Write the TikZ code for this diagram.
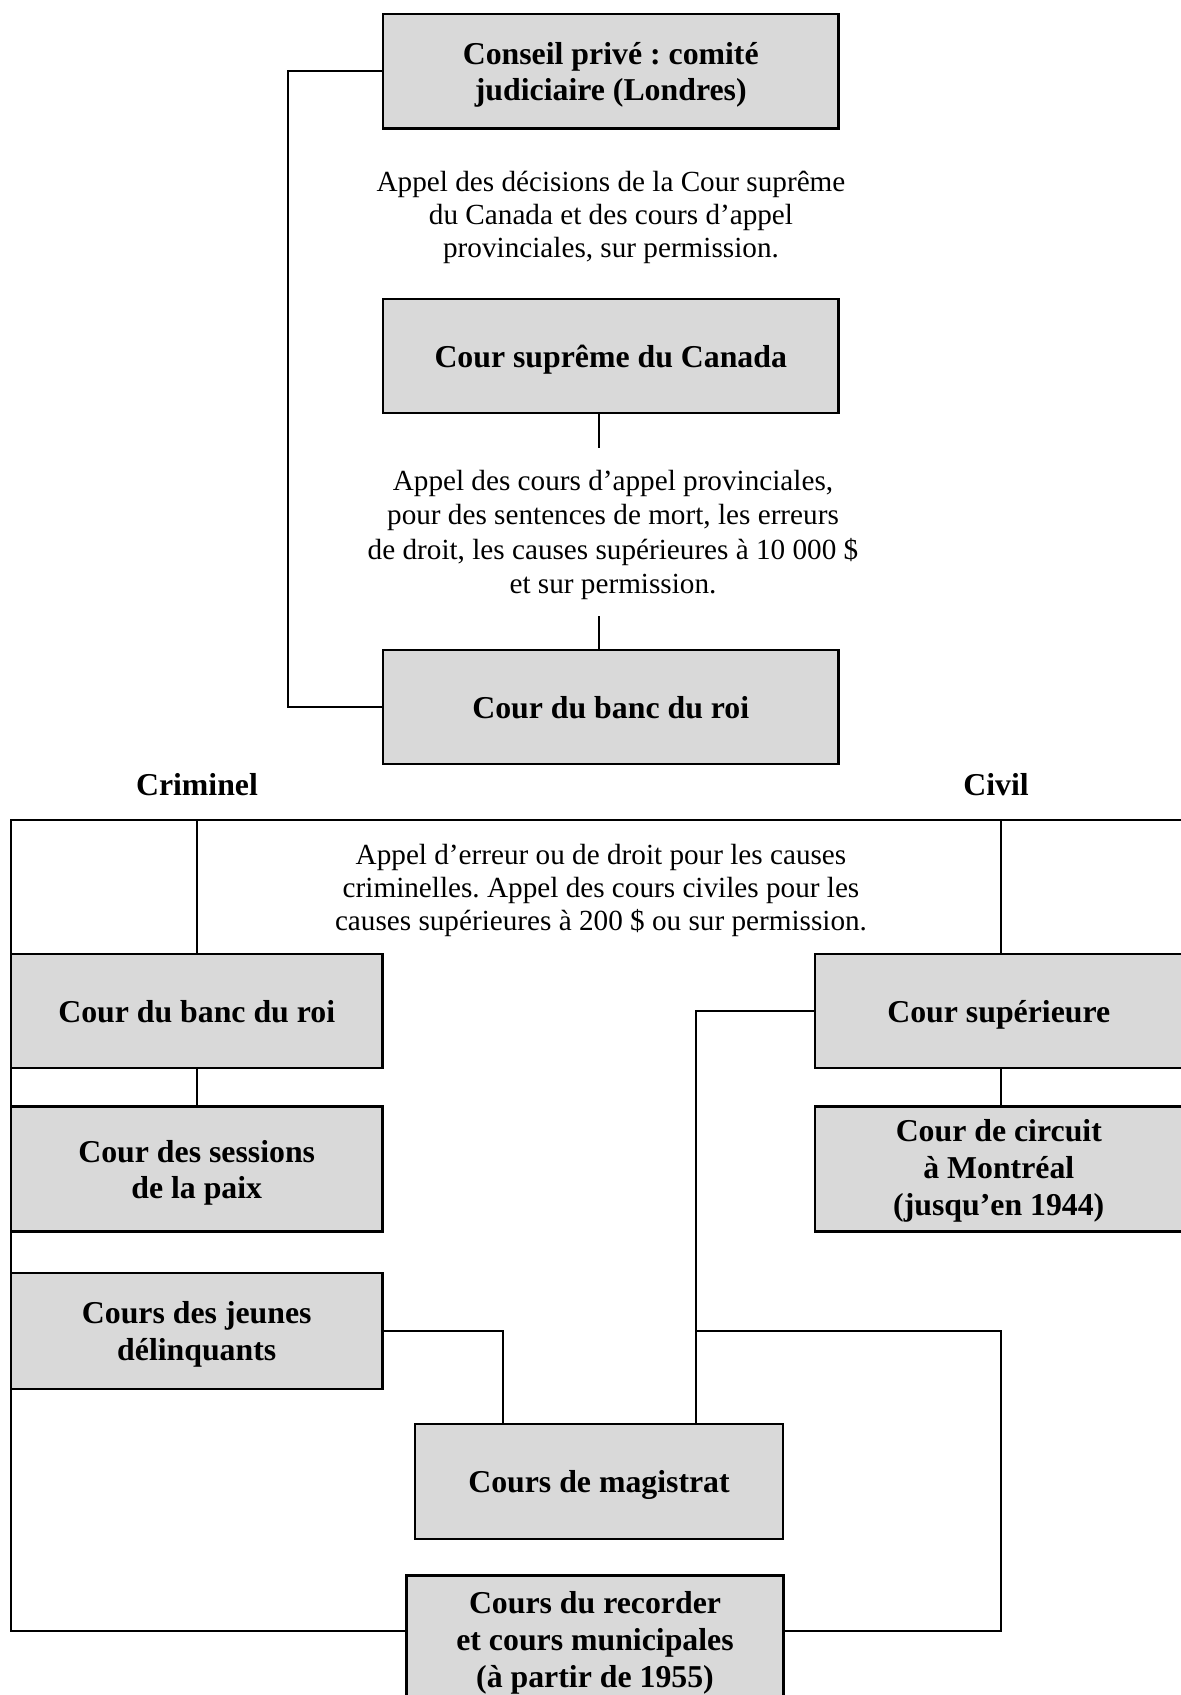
\documentclass[tikz,border=0pt]{standalone}
\usepackage{fontspec}
\setmainfont{Liberation Serif}
\frenchspacing
% struts that set the text a little low in the court boxes
\newcommand\ctop{\rule{0pt}{14.8pt}}
\newcommand\cbot{\rule[-3.6pt]{0pt}{3.6pt}}
\begin{document}
\begin{tikzpicture}[x=0.5pt,y=-0.5pt,
  court/.style={draw=black, line width=1.3pt, fill=courtgray, align=center,
    font=\fontsize{15.9}{18.4}\selectfont\bfseries, inner sep=0pt},
  note/.style={align=center, font=\fontsize{14.6}{16.6}\selectfont, inner sep=0pt},
  head/.style={font=\fontsize{15.9}{18.4}\selectfont\bfseries, inner sep=0pt},
  link/.style={draw=black, line width=1pt}]
\definecolor{courtgray}{RGB}{217,217,217}
\useasboundingbox (0,0) rectangle (1181,1695);
\clip (0,0) rectangle (1181,1695);

% upper chain
\node[court, minimum width=455.5*0.5pt, minimum height=114.7*0.5pt] (conseil) at (610.75,71.3)
  {Conseil privé : comité\ctop\\judiciaire (Londres)\cbot};
\node[note] (txtA) at (611,217.8) {Appel des décisions de la Cour suprême\strut\\du Canada et des cours d’appel\\provinciales, sur permission.\strut};
\node[court, minimum width=455.5*0.5pt, minimum height=114*0.5pt] (supreme) at (610.75,356) {Cour suprême du Canada\ctop\cbot};
\node[note, font=\fontsize{14.6}{17.2}\selectfont] (txtB) at (613,535) {Appel des cours d’appel provinciales,\strut\\pour des sentences de mort, les erreurs\\de droit, les causes supérieures à 10 000 \$\\et sur permission.\strut};
\node[court, minimum width=455.5*0.5pt, minimum height=114*0.5pt] (banc) at (610.75,707) {Cour du banc du roi\ctop\cbot};

\coordinate (sA) at (598.5,448);
\coordinate (sB) at (598.5,616);
\draw[link] (supreme.south -| sA) -- (sA);
\draw[link] (sB) -- (banc.north -| sB);
\draw[link] (conseil.west) -- (288,71.3) -- (288,707) -- (banc.west);

% headings
\node[head] (crim) at (197,788.5) {Criminel\strut};
\node[head] (civ) at (996,788.5) {Civil\strut};
\node[note] (txtC) at (601,890.8) {Appel d’erreur ou de droit pour les causes\strut\\criminelles. Appel des cours civiles pour les\\causes supérieures à 200 \$ ou sur permission.\strut};

% criminal side
\node[court, minimum width=371.5*0.5pt, minimum height=114*0.5pt] (bancc) at (196.75,1011) {Cour du banc du roi\ctop\cbot};
\node[court, minimum width=371.5*0.5pt, minimum height=125*0.5pt] (sessions) at (196.75,1169.2) {Cour des sessions\ctop\\de la paix\cbot};
\node[court, minimum width=371.5*0.5pt, minimum height=116.3*0.5pt] (jeunes) at (196.75,1331) {Cours des jeunes\ctop\\délinquants\cbot};

% civil side (boxes run past the right edge)
\node[court, minimum width=400*0.5pt, minimum height=114*0.5pt, anchor=west] (sup) at (813.5,1011) {\hspace*{-16pt}Cour supérieure\ctop\cbot};
\node[court, minimum width=400*0.5pt, minimum height=125*0.5pt, anchor=west] (circuit) at (813.5,1169.2)
  {\hspace*{-16pt}\begin{tabular}{@{}c@{}}Cour de circuit\ctop\\à Montréal\\(jusqu’en 1944)\cbot\end{tabular}};

% lower courts
\node[court, minimum width=368*0.5pt, minimum height=115*0.5pt] (magis) at (599,1481.5) {Cours de magistrat\ctop\cbot};
\node[court, minimum width=376.5*0.5pt, minimum height=128*0.5pt, anchor=north] (recorder) at (595,1574)
  {Cours du recorder\ctop\\et cours municipales\\(à partir de 1955)\cbot};

% criminal / civil frame
\coordinate (fl) at (11,819.5);
\coordinate (fr) at (1190,819.5);
\coordinate (fc) at (197,819.5);
\coordinate (fv) at (1001,819.5);
\draw[link] (fr) -- (fl) -- (11,1631) -- (recorder.west |- 0,1631);
\draw[link] (fc) -- (bancc.north -| fc);
\draw[link] (fv) -- (sup.north -| fv);
\draw[link] (bancc.south -| fc) -- (sessions.north -| fc);
\draw[link] (sup.south -| fv) -- (circuit.north -| fv);

% links to the lower courts
\draw[link] (jeunes.east) -- (502.5,1331) -- (magis.north -| 502.5,0);
\coordinate (jn) at (696,1331);
\draw[link] (sup.west) -- (696,1011) -- (magis.north -| jn);
\draw[link] (jn) -- (1001,1331) -- (1001,1631) -- (recorder.east |- 0,1631);
\end{tikzpicture}
\end{document}
